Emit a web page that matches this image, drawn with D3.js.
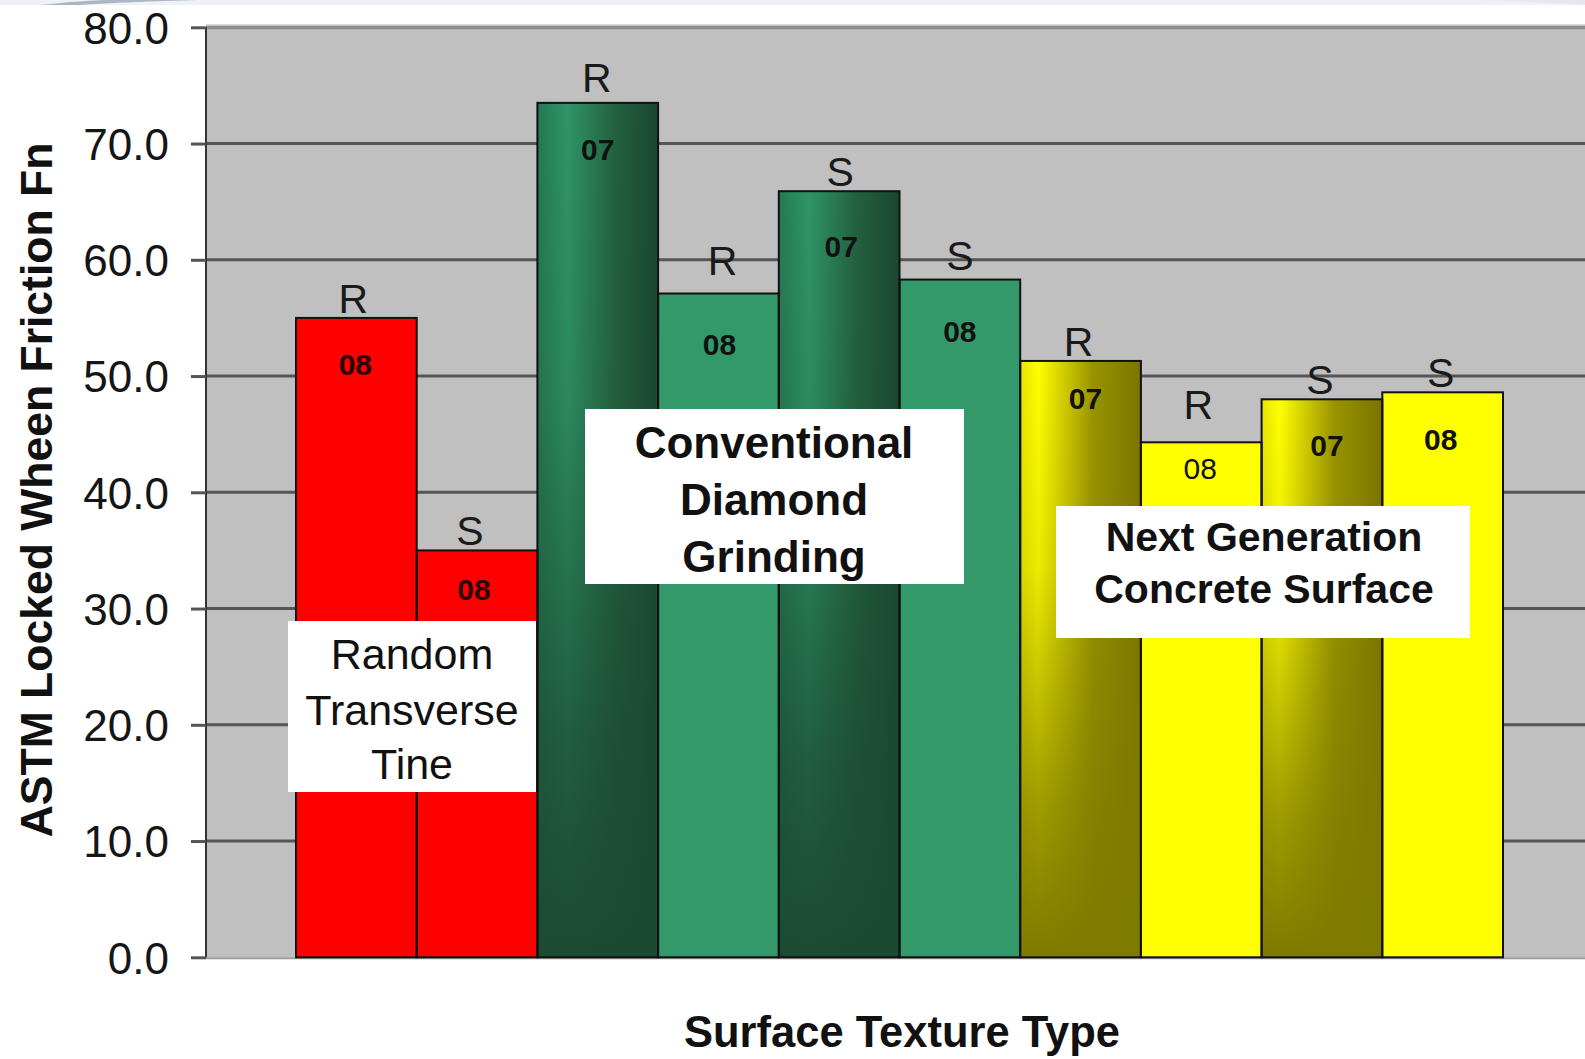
<!DOCTYPE html>
<html>
<head>
<meta charset="utf-8">
<script src="https://cdn.jsdelivr.net/npm/d3@7/dist/d3.min.js"></script>
<style>
  html, body { margin: 0; padding: 0; background: #ffffff; }
  svg { display: block; font-family: "Liberation Sans", Arial, sans-serif; }
</style>
</head>
<body>
<svg id="chart" width="1585" height="1059"></svg>
<script>
// ---------- data ----------
const barIds        = ["rtt-R08", "rtt-S08", "cdg-R07", "cdg-R08", "cdg-S07", "cdg-S08", "ngcs-R07", "ngcs-R08", "ngcs-S07", "ngcs-S08"];
const barGroups     = ["rtt", "rtt", "cdg", "cdg", "cdg", "cdg", "ngcs", "ngcs", "ngcs", "ngcs"];
const topLabels     = ["R", "S", "R", "R", "S", "S", "R", "R", "S", "S"];
const yearLabels    = ["08", "08", "07", "08", "07", "08", "07", "08", "07", "08"];
const frictionFn    = [55.0, 35.0, 73.5, 57.1, 65.9, 58.3, 51.3, 44.3, 48.0, 48.6];
const yTickValues   = [0, 10, 20, 30, 40, 50, 60, 70, 80];
const groupTitleRTT  = ["Random", "Transverse", "Tine"];
const groupTitleCDG  = ["Conventional", "Diamond", "Grinding"];
const groupTitleNGCS = ["Next Generation", "Concrete Surface"];
const yAxisTitle = "ASTM Locked Wheen Friction Fn";
const xAxisTitle = "Surface Texture Type";

// ---------- layout (label nudges, px) ----------
const topLabelLift = [0, 0, 6, 14, 0, 5, 0, 18, 0, 0];
const topLabelDx   = [-3, -7, -1, 4, 1, 0, -2, -3, -2, -2];
const yearDy       = [46, 39, 46, 50, 55, 51, 37, 26, 46, 47];
const yearDx       = [-1, -3, 0, 1, 2, 0, 5, -1, 5, -2];

const W = 1585, H = 1059;
const plot = { left: 206, top: 27.3, right: 1585, bottom: 957.3 };
const svg = d3.select("#chart");

const y = d3.scaleLinear().domain([0, 80]).range([plot.bottom, plot.top]);
const x = d3.scaleBand().domain(barIds).range([296, 1503]).paddingInner(0).paddingOuter(0);

const defs = svg.append("defs");
function hGrad(id, stops) {
  const g = defs.append("linearGradient").attr("id", id).attr("x1", 0).attr("y1", 0).attr("x2", 1).attr("y2", 0);
  stops.forEach(s => g.append("stop").attr("offset", s[0]).attr("stop-color", s[1]).attr("stop-opacity", s[2] == null ? 1 : s[2]));
}
function vGrad(id, stops) {
  const g = defs.append("linearGradient").attr("id", id).attr("x1", 0).attr("y1", 0).attr("x2", 0).attr("y2", 1);
  stops.forEach(s => g.append("stop").attr("offset", s[0]).attr("stop-color", s[1]).attr("stop-opacity", s[2] == null ? 1 : s[2]));
}
hGrad("gH", [[0, "#247a52"], [0.25, "#2f9467"], [0.65, "#23603f"], [1, "#1a4630"]]);
vGrad("gV", [[0, "#1b4a33", 0], [0.35, "#1b4a33", 0.15], [0.75, "#1b4a33", 0.75], [1, "#1b4a33", 1]]);
hGrad("yH", [[0, "#e6e600"], [0.15, "#ffff00"], [0.6, "#9a9400"], [1, "#7a7400"]]);
vGrad("yV", [[0, "#7f7a00", 0], [0.35, "#7f7a00", 0.15], [0.75, "#7f7a00", 0.75], [1, "#7f7a00", 1]]);

// ---------- slide decoration (top band) ----------
svg.append("rect").attr("x", 0).attr("y", 0).attr("width", W).attr("height", 5).attr("fill", "#eef2f6");
svg.append("path").attr("d", "M40,5 C70,2 90,0 120,0 L200,0 C150,1 110,3 80,5 Z").attr("fill", "#9aa6b8").attr("opacity", 0.8);
svg.append("path").attr("d", "M1480,0 L1585,0 L1585,5 C1550,3 1515,1 1480,0 Z").attr("fill", "#e9e6ee");

// ---------- plot background ----------
svg.append("rect").attr("x", plot.left).attr("y", plot.top).attr("width", plot.right - plot.left).attr("height", plot.bottom - plot.top).attr("fill", "#c0c0c0");

// gridlines
svg.append("g").selectAll("line").data(yTickValues.filter(d => d > 0)).join("line")
  .attr("x1", plot.left).attr("x2", plot.right)
  .attr("y1", d => y(d)).attr("y2", d => y(d))
  .attr("stroke", d => d === 80 ? "#8e8e8e" : "#555555")
  .attr("stroke-width", d => d === 80 ? 4 : 3);
svg.append("line").attr("x1", plot.left).attr("x2", plot.right).attr("y1", plot.top - 2.5).attr("y2", plot.top - 2.5).attr("stroke", "#dcdcdc").attr("stroke-width", 1.5);
svg.append("line").attr("x1", plot.left).attr("x2", plot.right).attr("y1", y(0) + 1).attr("y2", y(0) + 1).attr("stroke", "#9a9a9a").attr("stroke-width", 2);

// y axis with D3
const yAxis = d3.axisLeft(y).tickValues(yTickValues).tickFormat(d3.format(".1f")).tickSize(15).tickPadding(22);
const yAxisG = svg.append("g").attr("transform", `translate(${plot.left},0)`).call(yAxis);
yAxisG.select(".domain").attr("stroke", "#333").attr("stroke-width", 2).attr("d", `M0,${plot.top}V${plot.bottom}`);
yAxisG.selectAll(".tick line").attr("stroke", "#555").attr("stroke-width", 3);
yAxisG.selectAll(".tick text").attr("font-size", 44).attr("fill", "#151515")
  .attr("font-family", '"Liberation Sans", Arial, sans-serif').attr("dy", "0.36em");

// ---------- bars ----------
const bars = frictionFn.map((v, i) => ({ i, id: barIds[i], group: barGroups[i], top: topLabels[i], year: yearLabels[i], value: v }));
function baseFill(d) {
  if (d.group === "rtt") return "#ff0000";
  if (d.group === "cdg") return d.year === "07" ? "url(#gH)" : "#33996a";
  return d.year === "07" ? "url(#yH)" : "#ffff00";
}
const barG = svg.append("g");
barG.selectAll("rect.base").data(bars).join("rect").attr("class", "base")
  .attr("x", d => x(d.id)).attr("width", x.bandwidth())
  .attr("y", d => y(d.value)).attr("height", d => y(0) - y(d.value))
  .attr("fill", baseFill);
barG.selectAll("rect.shade").data(bars.filter(d => d.year === "07" && d.group !== "rtt")).join("rect").attr("class", "shade")
  .attr("x", d => x(d.id)).attr("width", x.bandwidth())
  .attr("y", d => y(d.value)).attr("height", d => y(0) - y(d.value))
  .attr("fill", d => d.group === "cdg" ? "url(#gV)" : "url(#yV)");
barG.selectAll("rect.edge").data(bars).join("rect").attr("class", "edge")
  .attr("x", d => x(d.id)).attr("width", x.bandwidth())
  .attr("y", d => y(d.value)).attr("height", d => y(0) - y(d.value))
  .attr("fill", "none").attr("stroke", "#111").attr("stroke-width", 2);

// top labels (R / S)
svg.append("g").selectAll("text").data(bars).join("text")
  .attr("x", d => x(d.id) + x.bandwidth() / 2 + topLabelDx[d.i])
  .attr("y", d => y(d.value) - 5 - topLabelLift[d.i])
  .attr("text-anchor", "middle").attr("font-size", 41).attr("fill", "#1a1a1a")
  .text(d => d.top);

// year labels inside bars
svg.append("g").selectAll("text").data(bars).join("text")
  .attr("x", d => x(d.id) + x.bandwidth() / 2 + yearDx[d.i])
  .attr("y", d => y(d.value) + yearDy[d.i] + 11)
  .attr("text-anchor", "middle").attr("font-size", 30)
  .attr("font-weight", d => d.i === 7 ? "normal" : "bold")
  .attr("fill", d => d.group === "rtt" ? "#2a0000" : "#111")
  .text(d => d.year);

// ---------- group label boxes ----------
function labelBox(x0, y0, w, h, lines, baselines, fs, weight, cx) {
  const g = svg.append("g");
  g.append("rect").attr("x", x0).attr("y", y0).attr("width", w).attr("height", h).attr("fill", "#ffffff");
  g.selectAll("text").data(lines).join("text")
    .attr("x", cx).attr("y", (d, i) => baselines[i])
    .attr("text-anchor", "middle").attr("font-size", fs).attr("font-weight", weight).attr("fill", "#111")
    .text(d => d);
}
labelBox(288, 621, 248, 171, groupTitleRTT, [669, 725, 779], 43, "normal", 412);
labelBox(585, 409, 379, 175, groupTitleCDG, [458, 515, 572], 44, "bold", 774);
labelBox(1056, 506, 414, 132, groupTitleNGCS, [551, 603], 41, "bold", 1264);

// ---------- axis titles ----------
svg.append("text").attr("transform", `translate(52,490) rotate(-90)`)
  .attr("text-anchor", "middle").attr("font-size", 44.5).attr("font-weight", "bold").attr("fill", "#111")
  .text(yAxisTitle);
svg.append("text").attr("x", 902).attr("y", 1047)
  .attr("text-anchor", "middle").attr("font-size", 43.5).attr("font-weight", "bold").attr("fill", "#111")
  .text(xAxisTitle);
</script>
</body>
</html>
